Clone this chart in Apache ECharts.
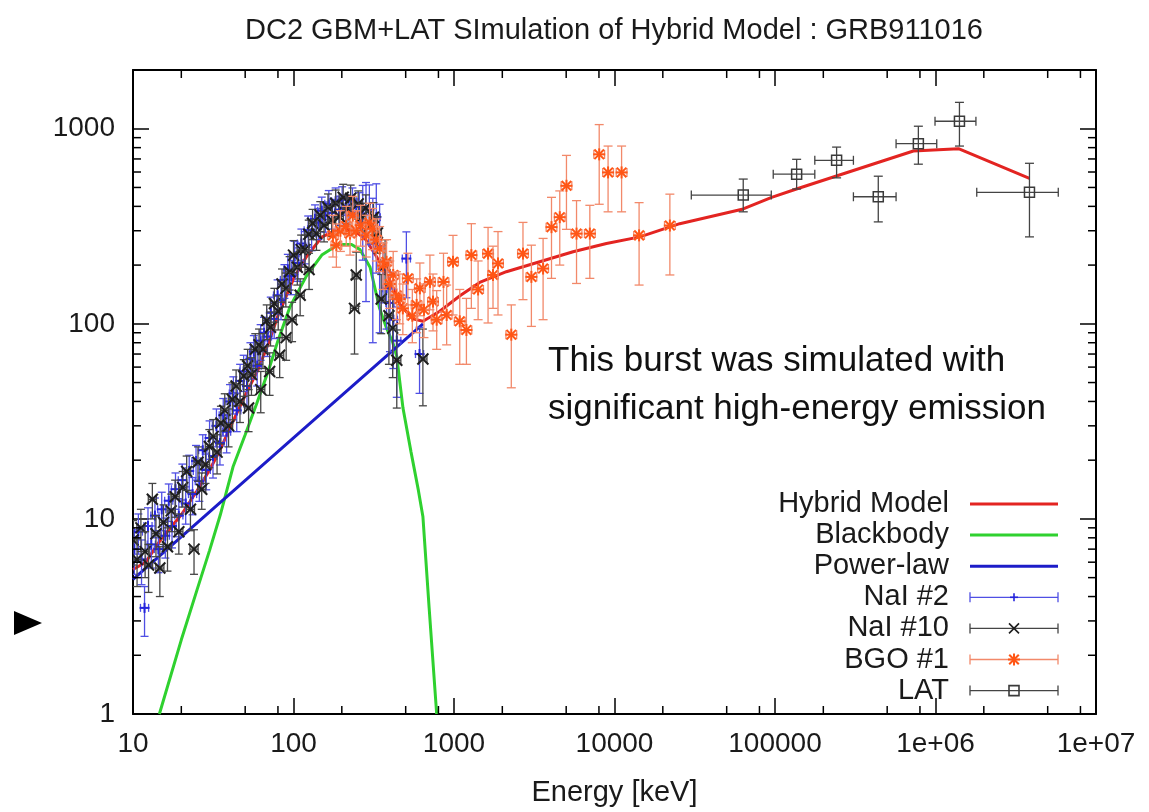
<!DOCTYPE html>
<html><head><meta charset="utf-8">
<script src="https://cdn.jsdelivr.net/npm/echarts@6/dist/echarts.min.js"></script>
<style>html,body{margin:0;padding:0;background:#fff}#c{width:1149px;height:812px}</style>
</head><body><div id="c"></div>
<script>
const FONT = "'Liberation Sans', Arial, Helvetica, sans-serif";
const titleText = 'DC2 GBM+LAT SImulation of Hybrid Model : GRB911016';
const xAxisName = 'Energy [keV]';
const noteLines = ['This burst was simulated with', 'significant high-energy emission'];

// tick positions / labels
const xTickValues = [10, 100, 1000, 10000, 100000, 1000000, 10000000];
const xTickLabels = ['10', '100', '1000', '10000', '100000', '1e+06', '1e+07'];
const yTickValues = [1, 10, 100, 1000];
const yTickLabels = ['1', '10', '100', '1000'];
const xMinorTicks = [20, 50, 80, 200, 500, 800, 2000, 5000, 8000, 20000, 50000, 80000,
  200000, 500000, 800000, 2000000, 5000000, 8000000];
const yMinorTicks = [2, 3, 4, 5, 6, 7, 8, 9, 20, 30, 40, 50, 60, 70, 80, 90,
  200, 300, 400, 500, 600, 700, 800, 900];

// model curves (energy keV, nuFnu)
const hybridE = [10, 12, 15, 20, 25, 30, 35, 40, 50, 60, 70, 80, 100, 120, 150, 180, 210, 240, 280, 328, 397, 459, 555, 641, 815, 1100, 1445, 2120, 3420, 5520, 8910, 14400, 25500, 63400, 95300, 136000, 728000, 1390000, 3850000];
const hybridF = [5.5, 6.0, 7.9, 10.5, 13.9, 17.8, 22.7, 29, 43, 58, 80, 110, 170, 220, 278, 300, 305, 300, 272, 222, 168, 126, 106, 103, 116, 140, 163, 185, 208, 234, 258, 279, 326, 388, 445, 491, 769, 790, 556];
const bbE = [14.6, 20, 25, 30, 35, 42, 50, 59, 70, 80, 95, 120, 150, 190, 230, 260, 300, 344, 380, 416, 440, 460, 481, 540, 600, 640, 700, 780];
const bbF = [1, 2.4, 4.3, 6.9, 10.5, 18.5, 27, 39, 58, 82, 122, 175, 225, 255, 255, 240, 195, 120, 95, 80, 68, 50, 37, 22, 14, 10.3, 3.5, 1];
const plE = [10, 100, 641];
const plF = [4.9, 26, 100];

// NaI #2 : [E, F, dF]
const nai2 = [[10.2,7.0,1.8],[10.8,8.6,2.0],[11.3,6.2,1.6],[11.8,3.5,1.0],[12.4,9.2,2.2],[13.0,7.4,1.8],[13.7,10.4,2.4],[14.4,7.0,1.7],[15.1,11.2,2.5],[15.9,8.2,1.9],[16.7,12.4,2.7],[17.5,9.2,2.1],[18.4,14.2,3.0],[19.3,10.4,2.3],[20.3,15.8,3.3],[21.3,12.0,2.6],[22.4,17.6,3.6],[23.5,13.4,2.9],[24.7,19.8,4.0],[25.9,15.6,3.3],[27.2,22.5,4.5],[28.6,17.8,3.7],[30.0,26,5.8],[31.5,21,4.8],[33.1,30,6.6],[34.8,24.5,5.6],[36.5,34,7.4],[38.3,28,6.2],[40.2,40,8.8],[42.2,44,9.5],[44.3,36,8],[46.5,51,11],[48.9,57,12],[51.3,48,10.5],[53.9,66,14],[56.6,72,15],[59.4,61,13],[62.4,82,17],[65.5,90,18],[68.8,86,18],[72.2,114,23],[75.8,106,22],[79.6,140,28],[83.6,132,27],[87.8,168,33],[92.2,190,37],[96.8,176,35],[101.6,222,43],[106.7,205,40],[112,258,48],[117.6,250,47],[123.5,302,55],[129.7,290,53],[136.2,345,62],[143,330,60],[150,380,66],[158,358,63],[166,412,70],[174,370,64],[183,425,72],[192,385,66],[201,432,72],[211,392,66],[222,380,64],[233,425,72],[245,372,64],[257,398,72],[270,362,150],[283,330,200],[297,385,130],[312,260,180],[328,352,170],[344,250,160],[361,190,62],[380,152,58],[399,128,56],[419,105,46],[440,82,40],[505,216,80],[610,70,26]];
// NaI #10 : [E, F, dF]
const nai10 = [[10.0,7.8,2.0],[10.6,6.2,1.7],[11.2,9.0,2.2],[11.9,6.8,1.8],[12.5,5.8,1.6],[13.2,12.6,2.6],[13.9,8.4,2.0],[14.7,5.6,1.6],[15.5,9.6,2.2],[16.4,7.2,1.8],[17.3,11.0,2.4],[18.3,13.0,2.8],[19.3,8.6,2.0],[20.4,14.5,3.0],[21.6,17.5,3.5],[22.8,11.2,2.5],[24.0,7.0,1.8],[25.4,19.5,3.9],[26.8,14.2,3.0],[28.3,19,3.8],[29.9,23.5,5.2],[31.6,26.5,5.8],[33.4,22,5],[35.3,31,6.8],[37.3,36,7.8],[39.4,30,6.6],[41.6,41,8.8],[43.9,48,10],[46.4,40,8.8],[49.0,54,11.5],[51.8,61,13],[52.5,37,9],[54.7,55,12],[57.8,74,15],[61.0,78,16],[62.5,46,11],[64.5,74,15],[68.1,104,21],[71,57,14],[71.9,96,19],[76.0,127,25],[80.3,116,23],[82,69,16],[84.8,160,31],[89.6,152,30],[90,85,20],[94.6,185,36],[98,105,24],[100,225,42],[105.6,195,37],[110,140,30],[111.6,240,45],[117.9,240,45],[124.5,288,52],[125,190,40],[131.5,328,58],[139,290,52],[146.8,360,63],[155,320,57],[164,395,68],[173,340,60],[183,415,70],[193,355,62],[204,445,74],[215,390,66],[227,440,74],[240,120,50],[246,178,55],[253,412,68],[267,355,60],[282,392,66],[298,318,58],[315,352,66],[333,292,62],[352,134,45],[372,200,70],[393,110,48],[415,95,42],[440,65,28],[640,66,28]];
// BGO #1 : [E, F, Flow, Fhigh]
const bgo1 = [[176,284,220,360],[185,253,195,325],[196,300,235,380],[213,317,250,400],[225,290,225,370],[234,359,280,450],[246,301,235,380],[262,320,250,405],[284,284,220,360],[298,330,260,415],[311,307,240,390],[328,270,210,345],[344,243,185,315],[361,199,150,260],[380,208,160,270],[398,160,120,210],[418,178,135,235],[438,140,105,185],[459,134,100,180],[480,120,88,160],[516,171,125,230],[550,110,80,150],[585,125,90,170],[613,152,110,205],[650,118,85,160],[708,164,118,225],[740,130,92,180],[780,105,74,148],[860,164,115,230],[900,111,78,158],[986,208,111,284],[1086,103,62,150],[1195,93,62,135],[1283,225,120,326],[1413,150,105,210],[1630,229,101,312],[1750,178,120,250],[1880,204,111,297],[2275,88,47,125],[2690,229,133,331],[3035,174,97,253],[3590,192,105,274],[4050,313,171,445],[4560,352,200,480],[5020,510,305,730],[5800,290,161,428],[7020,290,171,405],[8030,739,410,1050],[9120,597,375,815],[11070,597,375,815],[14230,284,158,418],[22130,319,178,462]];
// LAT : [E, F, Flow, Fhigh, Elow, Ehigh]
const lat = [[63400,457,375,552,30100,94800],[136400,585,491,697,97500,177000],[242000,689,560,805,177000,308000],[440000,448,333,571,308000,568000],[782000,838,658,1030,568000,1018000],[1410000,1092,815,1365,993000,1786000],[3850000,472,279,665,1807000,5820000]];
// detector energy-bin half-width ratios
const nai2BinRatio = 1.06, nai10BinRatio = 1.06, bgoBinRatio = 1.08;

const COL = {
  hybrid: '#e32421', bb: '#2fd12f', pl: '#1c1cc8',
  nai2: '#2424dc', nai2Bar: '#4f4fe4',
  nai10: '#1e1e1e', nai10Bar: '#454545',
  bgo: '#ff5616', bgoBar: '#f2896a',
  lat: '#3a3a3a', latBar: '#444444'
};

function zip(a, b) { return a.map((v, i) => [v, b[i]]); }
function fromSym(arr, r) { return arr.map(d => [d[0], d[1], d[1] - d[2], d[1] + d[2], d[0] / r, d[0] * r]); }
function fromBgo(arr, r) { return arr.map(d => [d[0], d[1], d[2], d[3], d[0] / r, d[0] * r]); }

function markerShapes(type, cx, cy, s, color, lw) {
  const h = s / 2, out = [];
  const seg = (x1, y1, x2, y2) => ({ type: 'line', shape: { x1, y1, x2, y2 }, style: { stroke: color, lineWidth: lw } });
  if (type === 'plus' || type === 'star') out.push(seg(cx - h, cy, cx + h, cy), seg(cx, cy - h, cx, cy + h));
  if (type === 'cross' || type === 'star') { const k = type === 'star' ? h * 0.8 : h; out.push(seg(cx - k, cy - k, cx + k, cy + k), seg(cx - k, cy + k, cx + k, cy - k)); }
  if (type === 'square') out.push({ type: 'rect', shape: { x: cx - h, y: cy - h, width: s, height: s }, style: { fill: 'none', stroke: color, lineWidth: lw } });
  return out;
}

function errRender(o) {
  return function (params, api) {
    const E = api.value(0), F = api.value(1), Flo = api.value(2), Fhi = api.value(3), Elo = api.value(4), Ehi = api.value(5);
    const c = api.coord([E, F]), t = api.coord([E, Fhi]), b = api.coord([E, Flo]), l = api.coord([Elo, F]), r = api.coord([Ehi, F]);
    const k = o.cap / 2, st = { stroke: o.barColor, lineWidth: o.barWidth };
    const L = (x1, y1, x2, y2) => ({ type: 'line', shape: { x1, y1, x2, y2 }, style: st });
    const ch = [
      L(c[0], t[1], c[0], b[1]), L(c[0] - k, t[1], c[0] + k, t[1]), L(c[0] - k, b[1], c[0] + k, b[1]),
      L(l[0], c[1], r[0], c[1]), L(l[0], c[1] - k, l[0], c[1] + k), L(r[0], c[1] - k, r[0], c[1] + k)
    ].concat(markerShapes(o.marker, c[0], c[1], o.size, o.color, o.mlw));
    return { type: 'group', children: ch };
  };
}

function tickLabel(vals, labels) {
  return function (v) {
    const lv = Math.log10(v);
    for (let i = 0; i < vals.length; i++) if (Math.abs(Math.log10(vals[i]) - lv) < 1e-6) return labels[i];
    return '';
  };
}

const axisCommon = {
  axisLine: { show: true, onZero: false, lineStyle: { color: '#000', width: 2 } },
  axisTick: { show: true, inside: true, length: 16, lineStyle: { color: '#000', width: 1.5 } },
  splitLine: { show: false }, minorTick: { show: false }
};
const labelStyle = { fontFamily: FONT, fontSize: 28, color: '#1a1a1a' };

const chart = echarts.init(document.getElementById('c'), null, { renderer: 'canvas' });

// legend built from series styles
const legendItems = [
  { name: 'Hybrid Model', kind: 'line', color: COL.hybrid },
  { name: 'Blackbody', kind: 'line', color: COL.bb },
  { name: 'Power-law', kind: 'line', color: COL.pl },
  { name: 'NaI #2', kind: 'err', color: COL.nai2, bar: COL.nai2Bar, marker: 'plus', size: 8 },
  { name: 'NaI #10', kind: 'err', color: COL.nai10, bar: COL.nai10Bar, marker: 'cross', size: 10 },
  { name: 'BGO #1', kind: 'err', color: COL.bgo, bar: COL.bgoBar, marker: 'star', size: 12 },
  { name: 'LAT', kind: 'err', color: COL.lat, bar: COL.latBar, marker: 'square', size: 10 }
];
const legendGraphics = [];
legendItems.forEach((it, i) => {
  const y = 504 + i * 31.1;
  legendGraphics.push({ type: 'text', x: 949, y: y, style: { text: it.name, font: '29px ' + FONT, fill: '#1a1a1a', align: 'right', verticalAlign: 'middle' } });
  if (it.kind === 'line') {
    legendGraphics.push({ type: 'line', shape: { x1: 970, y1: y, x2: 1058, y2: y }, style: { stroke: it.color, lineWidth: 3 } });
  } else {
    const st = { stroke: it.bar, lineWidth: 1.3 };
    legendGraphics.push({ type: 'line', shape: { x1: 970, y1: y, x2: 1058, y2: y }, style: st });
    legendGraphics.push({ type: 'line', shape: { x1: 970, y1: y - 5, x2: 970, y2: y + 5 }, style: st });
    legendGraphics.push({ type: 'line', shape: { x1: 1058, y1: y - 5, x2: 1058, y2: y + 5 }, style: st });
    markerShapes(it.marker, 1014, y, it.size, it.color, it.marker === 'star' ? 2 : 1.6).forEach(s => legendGraphics.push(s));
  }
});

const option = {
  animation: false,
  backgroundColor: '#ffffff',
  title: {
    text: titleText, left: 609, top: 11, textAlign: 'center',
    textStyle: { fontFamily: FONT, fontSize: 29, fontWeight: 'normal', color: '#1a1a1a' }
  },
  grid: { left: 133, right: 53, top: 70, bottom: 93, containLabel: false },
  xAxis: [
    Object.assign({}, axisCommon, {
      type: 'log', logBase: 10, min: 10, max: 1e7, splitNumber: 6, position: 'bottom',
      name: xAxisName, nameLocation: 'middle', nameGap: 64,
      nameTextStyle: { fontFamily: FONT, fontSize: 29, color: '#1a1a1a' },
      axisLabel: Object.assign({ margin: 16, formatter: tickLabel(xTickValues, xTickLabels), showMinLabel: true, showMaxLabel: true }, labelStyle)
    }),
    Object.assign({}, axisCommon, {
      type: 'log', logBase: 10, min: 10, max: 1e7, splitNumber: 6, position: 'top',
      axisLabel: { show: false }
    })
  ],
  yAxis: [
    Object.assign({}, axisCommon, {
      type: 'log', logBase: 10, min: 1, max: 2000, splitNumber: 4, position: 'left',
      axisLabel: Object.assign({ margin: 18, formatter: tickLabel(yTickValues, yTickLabels) }, labelStyle)
    }),
    Object.assign({}, axisCommon, {
      type: 'log', logBase: 10, min: 1, max: 2000, splitNumber: 4, position: 'right',
      axisLabel: { show: false }
    })
  ],
  graphic: [
    { type: 'text', x: 548, y: 361, style: { text: noteLines[0], font: '35px ' + FONT, fill: '#111', verticalAlign: 'middle' } },
    { type: 'text', x: 548, y: 409, style: { text: noteLines[1], font: '35px ' + FONT, fill: '#111', verticalAlign: 'middle' } },
    { type: 'polygon', shape: { points: [[14, 611], [14, 635], [42, 623]] }, style: { fill: '#000' } }
  ].concat(legendGraphics),
  series: [
    { name: 'Hybrid Model', type: 'line', data: zip(hybridE, hybridF), showSymbol: false, clip: true, z: 2,
      lineStyle: { color: COL.hybrid, width: 3 }, itemStyle: { color: COL.hybrid } },
    { name: 'Blackbody', type: 'line', data: zip(bbE, bbF), showSymbol: false, clip: true, z: 2,
      lineStyle: { color: COL.bb, width: 3 }, itemStyle: { color: COL.bb } },
    { name: 'Power-law', type: 'line', data: zip(plE, plF), showSymbol: false, clip: true, z: 2,
      lineStyle: { color: COL.pl, width: 3 }, itemStyle: { color: COL.pl } },
    { name: 'NaI #2', type: 'custom', data: fromSym(nai2, nai2BinRatio), encode: { x: 0, y: 1 }, clip: true, z: 3,
      renderItem: errRender({ barColor: COL.nai2Bar, barWidth: 1.3, cap: 8, marker: 'plus', size: 10, color: COL.nai2, mlw: 2 }) },
    { name: 'NaI #10', type: 'custom', data: fromSym(nai10, nai10BinRatio), encode: { x: 0, y: 1 }, clip: true, z: 3,
      renderItem: errRender({ barColor: COL.nai10Bar, barWidth: 1.3, cap: 8, marker: 'cross', size: 11, color: COL.nai10, mlw: 2 }) },
    { name: 'BGO #1', type: 'custom', data: fromBgo(bgo1, bgoBinRatio), encode: { x: 0, y: 1 }, clip: true, z: 3,
      renderItem: errRender({ barColor: COL.bgoBar, barWidth: 1.3, cap: 9, marker: 'star', size: 12, color: COL.bgo, mlw: 2 }) },
    { name: 'LAT', type: 'custom', data: lat, encode: { x: 0, y: 1 }, clip: true, z: 3,
      renderItem: errRender({ barColor: COL.latBar, barWidth: 1.3, cap: 9, marker: 'square', size: 10, color: COL.lat, mlw: 1.5 }) },
    { name: 'xMinorTicks', type: 'custom', data: xMinorTicks.map(v => [v, 1]), encode: { x: 0, y: 1 }, clip: false, silent: true, z: 6,
      renderItem: function (params, api) {
        const x = api.coord([api.value(0), 1])[0], cs = params.coordSys, st = { stroke: '#000', lineWidth: 1.5 };
        return { type: 'group', children: [
          { type: 'line', shape: { x1: x, y1: cs.y + cs.height, x2: x, y2: cs.y + cs.height - 8 }, style: st },
          { type: 'line', shape: { x1: x, y1: cs.y, x2: x, y2: cs.y + 8 }, style: st }] };
      } },
    { name: 'yMinorTicks', type: 'custom', data: yMinorTicks.map(v => [10, v]), encode: { x: 0, y: 1 }, clip: false, silent: true, z: 6,
      renderItem: function (params, api) {
        const y = api.coord([10, api.value(1)])[1], cs = params.coordSys, st = { stroke: '#000', lineWidth: 1.5 };
        return { type: 'group', children: [
          { type: 'line', shape: { x1: cs.x, y1: y, x2: cs.x + 8, y2: y }, style: st },
          { type: 'line', shape: { x1: cs.x + cs.width, y1: y, x2: cs.x + cs.width - 8, y2: y }, style: st }] };
      } }
  ]
};
chart.setOption(option);
</script>
</body></html>
